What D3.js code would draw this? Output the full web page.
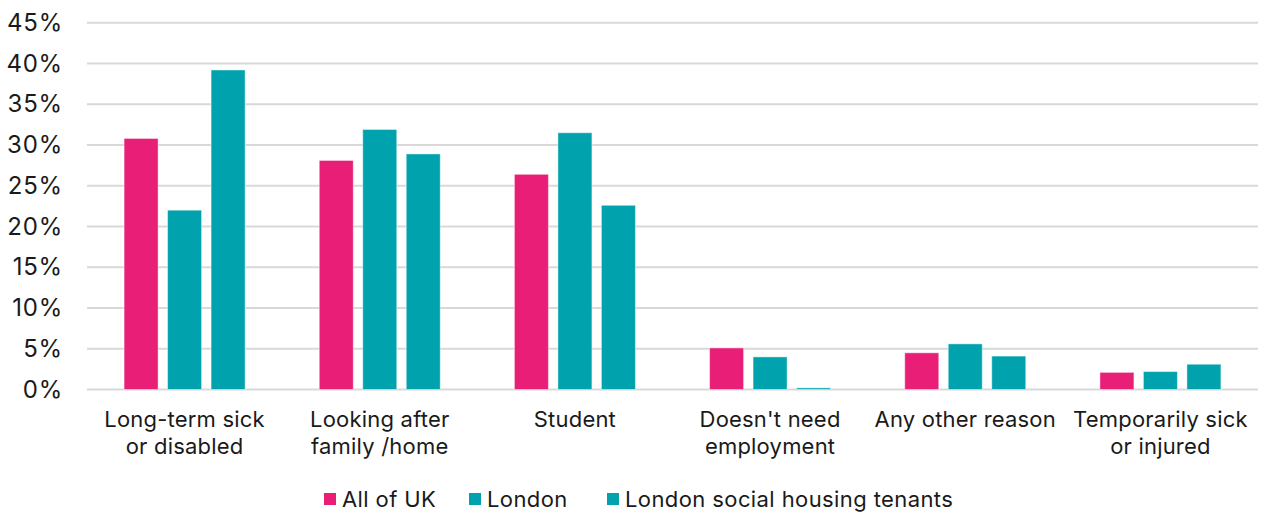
<!DOCTYPE html>
<html>
<head>
<meta charset="utf-8">
<script src="https://cdn.jsdelivr.net/npm/d3@7"></script>
<style>
  html, body { margin: 0; padding: 0; background: #fff; }
  svg { display: block; font-family: Inter, "Noto Sans", sans-serif; }
</style>
</head>
<body>
<svg id="chart" width="1266" height="514"></svg>
<script>
// Reasons for economic inactivity (share of inactive people)
const categories = [
  ["Long-term sick", "or disabled"],
  ["Looking after", "family /home"],
  ["Student"],
  ["Doesn't need", "employment"],
  ["Any other reason"],
  ["Temporarily sick", "or injured"]
];
const seriesNames = ["All of UK", "London", "London social housing tenants"];
const allUK          = [30.8, 28.1, 26.4, 5.1, 4.5, 2.1];
const london         = [22.0, 31.9, 31.5, 4.0, 5.6, 2.2];
const londonSocial   = [39.2, 28.9, 22.6, 0.2, 4.1, 3.1];
const yTicks = [0, 5, 10, 15, 20, 25, 30, 35, 40, 45];

const colors = ["#E91E76", "#00A3AD", "#00A3AD"];
const seriesValues = [allUK, london, londonSocial];

const svg = d3.select("#chart");
const plot = { left: 87, right: 1258, top: 22.7, bottom: 389.5 };

const catKeys = categories.map(c => c.join(" "));
const x0 = d3.scaleBand().domain(catKeys).range([plot.left, plot.right]).padding(0);
const groupW = 121;
const x1 = d3.scaleBand().domain(seriesNames)
  .range([(x0.bandwidth() - groupW) / 2, (x0.bandwidth() + groupW) / 2])
  .paddingInner(0.218).paddingOuter(0);
const y = d3.scaleLinear().domain([0, 45]).range([plot.bottom, plot.top]);

// Horizontal gridlines
svg.append("g")
  .selectAll("line")
  .data(yTicks)
  .join("line")
  .attr("x1", plot.left).attr("x2", plot.right)
  .attr("y1", d => y(d)).attr("y2", d => y(d))
  .attr("stroke", "#d9d9d9").attr("stroke-width", 2);

// Y axis labels
const yAxis = d3.axisLeft(y).tickValues(yTicks).tickSize(0).tickPadding(0)
  .tickFormat(d => d + "%");
svg.append("g")
  .attr("transform", `translate(63,0)`)
  .call(yAxis)
  .call(g => g.select(".domain").remove())
  .call(g => g.selectAll("text")
    .attr("font-size", 24).attr("fill", "#1a1a1a")
    .attr("letter-spacing", 0.8)
    .attr("font-family", "Inter, sans-serif"));

// Bars
const rows = catKeys.map((k, i) => ({ key: k, values: seriesNames.map((s, j) => ({ s, j, v: seriesValues[j][i] })) }));
svg.append("g")
  .selectAll("g")
  .data(rows)
  .join("g")
  .attr("transform", d => `translate(${x0(d.key)},0)`)
  .selectAll("rect")
  .data(d => d.values)
  .join("rect")
  .attr("x", d => x1(d.s))
  .attr("width", x1.bandwidth())
  .attr("y", d => y(d.v))
  .attr("height", d => y(0) - y(d.v))
  .attr("fill", d => colors[d.j])
  .attr("stroke", "rgba(255,255,255,0.45)")
  .attr("stroke-width", 1);

// Category labels
const catG = svg.append("g");
categories.forEach((lines, i) => {
  const cx = x0(catKeys[i]) + x0.bandwidth() / 2;
  const t = catG.append("text")
    .attr("text-anchor", "middle")
    .attr("font-size", 22)
    .attr("letter-spacing", 0.2)
    .attr("fill", "#1a1a1a");
  lines.forEach((ln, k) => {
    t.append("tspan").attr("x", cx).attr("y", 426.5 + k * 27).text(ln);
  });
});

// Legend
const legendX = [324, 469, 607];
const legend = svg.append("g");
seriesNames.forEach((name, i) => {
  legend.append("rect")
    .attr("x", legendX[i]).attr("y", 493)
    .attr("width", 12).attr("height", 12)
    .attr("fill", colors[i]);
  legend.append("text")
    .attr("x", legendX[i] + 18).attr("y", 506.5)
    .attr("font-size", 22).attr("fill", "#1a1a1a")
    .attr("letter-spacing", 0.4)
    .text(name);
});
</script>
</body>
</html>
